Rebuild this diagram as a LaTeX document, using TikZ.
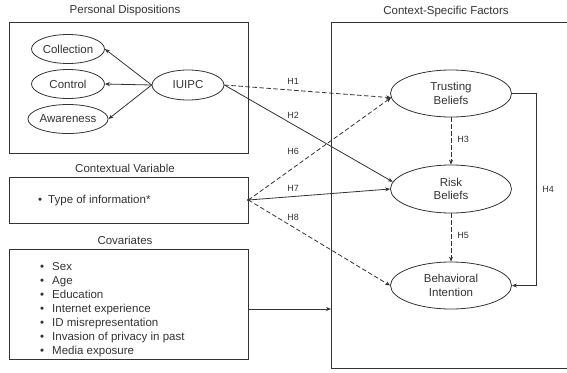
\documentclass[tikz,border=0pt]{standalone}
\usepackage{fontspec}
\setmainfont{Liberation Sans}
\usetikzlibrary{shapes.geometric,arrows.meta}

\definecolor{ink}{gray}{0.2}

\tikzset{
  every node/.style={text=ink, font=\fontsize{11.5}{13.5}\selectfont},
  frame/.style={draw=ink, line width=0.8pt, rectangle, inner sep=0pt},
  construct/.style={draw=ink, line width=0.8pt, ellipse, inner sep=0pt, align=center},
  heading/.style={inner sep=0pt},
  hyp/.style={inner sep=0pt, font=\fontsize{9}{10}\selectfont},
  link/.style={draw=ink, line width=0.8pt, -{Stealth[length=5pt,width=4pt]}},
  dlink/.style={link, dash pattern=on 4.5pt off 2.5pt},
}

\begin{document}
\begin{tikzpicture}[x=1pt, y=-1pt]
\useasboundingbox (0,0) rectangle (567,372);

% ---- Personal dispositions ----
\node[heading] (tpd) at (125,11) {Personal Dispositions};
\node[frame, minimum width=239pt, minimum height=131pt] (pd) at (128.5,87.5) {};
\node[construct, minimum width=73pt, minimum height=29pt] (coll) at (68,49) {Collection};
\node[construct, minimum width=73pt, minimum height=29pt] (ctrl) at (68,84) {Control};
\node[construct, minimum width=73pt, minimum height=29pt] (awar) at (68,119) {Awareness};
\node[construct, minimum width=72pt, minimum height=30pt] (iuipc) at (188,85) {IUIPC};

\draw[link] (iuipc.west) -- (coll.east);
\draw[link] (iuipc.west) -- (ctrl.east);
\draw[link] (iuipc.west) -- (awar.east);

% ---- Contextual variable ----
\node[heading] (tcv) at (125,168) {Contextual Variable};
\node[frame, minimum width=239pt, minimum height=46pt] (cv) at (128.5,200) {};
\node[anchor=west, inner sep=0pt] (tinfo) at (38,201) {\raisebox{0.5pt}{•}\hspace{6pt}Type of information*};
\fill[ink] (cv.east) circle (1.6pt);

% ---- Covariates ----
\node[heading] (tcov) at (125,240) {Covariates};
\node[frame, minimum width=239pt, minimum height=110pt] (cov) at (128.5,304) {};
\node[anchor=west, inner sep=0pt, font=\fontsize{11.5}{14}\selectfont] (covlist) at (40,310)
  {\begin{tabular}{@{}l@{\hspace{8pt}}l@{}}
   • & Sex\\
   • & Age\\
   • & Education\\
   • & Internet experience\\
   • & ID misrepresentation\\
   • & Invasion of privacy in past\\
   • & Media exposure
   \end{tabular}};

% ---- Context-specific factors ----
\node[heading] (tcsf) at (446,12) {Context-Specific Factors};
\draw[ink, line width=0.8pt] (567,22) -- (331,22) -- (331,368) -- (567,368);
\coordinate (csf) at (331,309);

\node[construct, minimum width=121pt, minimum height=47pt] (trust) at (451,93.5) {Trusting\\Beliefs};
\node[construct, minimum width=121pt, minimum height=48pt] (risk) at (451,189) {Risk\\Beliefs};
\node[construct, minimum width=121pt, minimum height=47pt] (behav) at (451,285.5) {Behavioral\\Intention};

% ---- Hypothesised paths ----
\draw[dlink] (iuipc.east) -- (trust.184);
\draw[link]  (iuipc.east) -- (risk.173);
\draw[dlink] (cv.east) -- (trust.184);
\draw[link]  (cv.east) -- (risk.west);
\draw[dlink] (cv.east) -- (behav.west);
\draw[dlink] (trust.south) -- (risk.north);
\draw[dlink] (risk.south) -- (behav.north);
\draw[link]  (trust.east) -- ++(24,0) |- (behav.east);
\draw[link]  (cov.east |- csf) -- (csf);

\node[hyp] (h1) at (293,81) {H1};
\node[hyp] (h2) at (293,115) {H2};
\node[hyp] (h6) at (293,151) {H6};
\node[hyp] (h7) at (293,188) {H7};
\node[hyp] (h8) at (293,217) {H8};
\node[hyp] (h3) at (463,139) {H3};
\node[hyp] (h5) at (463,235) {H5};
\node[hyp] (h4) at (548,189) {H4};
\end{tikzpicture}
\end{document}
